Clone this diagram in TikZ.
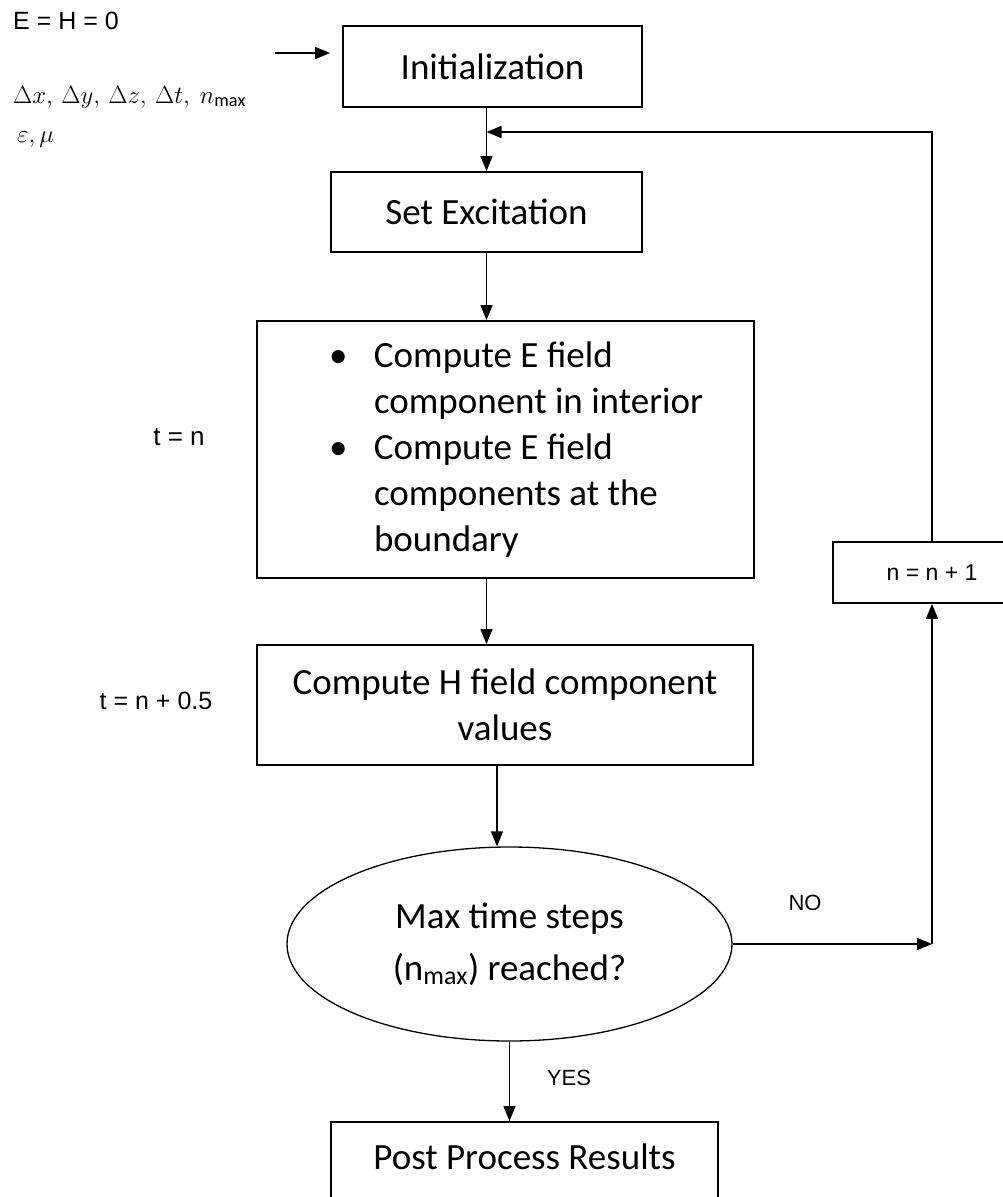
\documentclass[tikz,border=0pt]{standalone}
\usepackage{fontspec}
\setmainfont{Carlito}
\newfontfamily\lblfont{Liberation Sans}
\usetikzlibrary{arrows.meta,shapes.geometric}

\begin{document}
\begin{tikzpicture}[x=1pt, y=-1pt,
    block/.style={draw, line width=1.8pt, inner sep=0pt, align=center,
      font=\fontsize{37}{46}\selectfont},
    flow/.style={line width=1.6pt, -{Triangle[length=15pt, width=12pt]}},
    note/.style={inner sep=0pt, font=\lblfont\fontsize{22}{26}\selectfont}]
  \useasboundingbox (0,0) rectangle (1003,1197);

  % inputs on the left
  \node[note, anchor=west, font=\lblfont\fontsize{25}{28}\selectfont] (fields) at (13,21) {E = H = 0};
  \node[inner sep=0pt, anchor=west, font=\fontsize{26}{30}\selectfont] (steps) at (13,97)
    {$\Delta x,\,\Delta y,\,\Delta z,\,\Delta t,\ n_{\max}$};
  \node[inner sep=0pt, anchor=west, font=\fontsize{26}{30}\selectfont] (media) at (17,140) {$\varepsilon,\mu$};
  \coordinate (feed) at (275,53);

  % main chain
  \node[block, minimum width=299, minimum height=81] (init) at (492.5,66.5) {Initialization};
  \node[block, minimum width=311, minimum height=80] (excite) at (486.5,212) {Set Excitation};
  \node[block, text width=497pt, minimum height=257, align=flush left] (efield) at (505.5,449.5)
    {\hspace*{72pt}\makebox[45pt][l]{\textbullet}Compute E field\\
     \hspace*{117pt}component in interior\\
     \hspace*{72pt}\makebox[45pt][l]{\textbullet}Compute E field\\
     \hspace*{117pt}components at the\\
     \hspace*{117pt}boundary};
  \node[block, minimum width=496, minimum height=120] (hfield) at (505,705)
    {Compute H field component\\values};
  \node[draw, ellipse, line width=1.3pt, inner sep=0pt, minimum width=445, minimum height=194,
    align=center, font=\fontsize{37}{52}\selectfont] (check) at (509.5,944)
    {Max time steps\\(n\textsubscript{max}) reached?};
  \node[block, anchor=north, minimum width=387, inner ysep=22pt, text depth=60pt] (post) at (524.5,1121)
    {Post Process Results};
  \node[block, minimum width=198, minimum height=61, font=\lblfont\fontsize{23}{28}\selectfont] (incr) at (932,572.5)
    {n = n + 1};

  % time labels
  \node[note, font=\lblfont\fontsize{26}{30}\selectfont] (tfull) at (179,437) {t = n};
  \node[note, font=\lblfont\fontsize{25}{30}\selectfont] (thalf) at (156,701) {t = n + 0.5};
  \node[note] (no) at (805,903) {NO};
  \node[note] (yes) at (569,1078) {YES};

  \coordinate (back) at (932,132);
  \coordinate (turn) at (932,944);

  \draw[flow, shorten >=12pt] (feed) -- (feed -| init.west);
  \draw[flow] (excite.north |- init.south) -- (excite.north);
  \draw[flow] (excite.south) -- (excite.south |- efield.north);
  \draw[flow] (excite.south |- efield.south) -- (excite.south |- hfield.north);
  \draw[flow] ([xshift=-8pt]hfield.south) -- ([xshift=-8pt]hfield.south |- check.north);
  \draw[flow] (check.east) -- (turn);
  \draw[flow] (turn) -- (incr.south);
  \draw[flow] (incr.north) -- (back) -- (back -| excite.north);
  \draw[flow] (check.south) -- (check.south |- post.north);
\end{tikzpicture}
\end{document}
